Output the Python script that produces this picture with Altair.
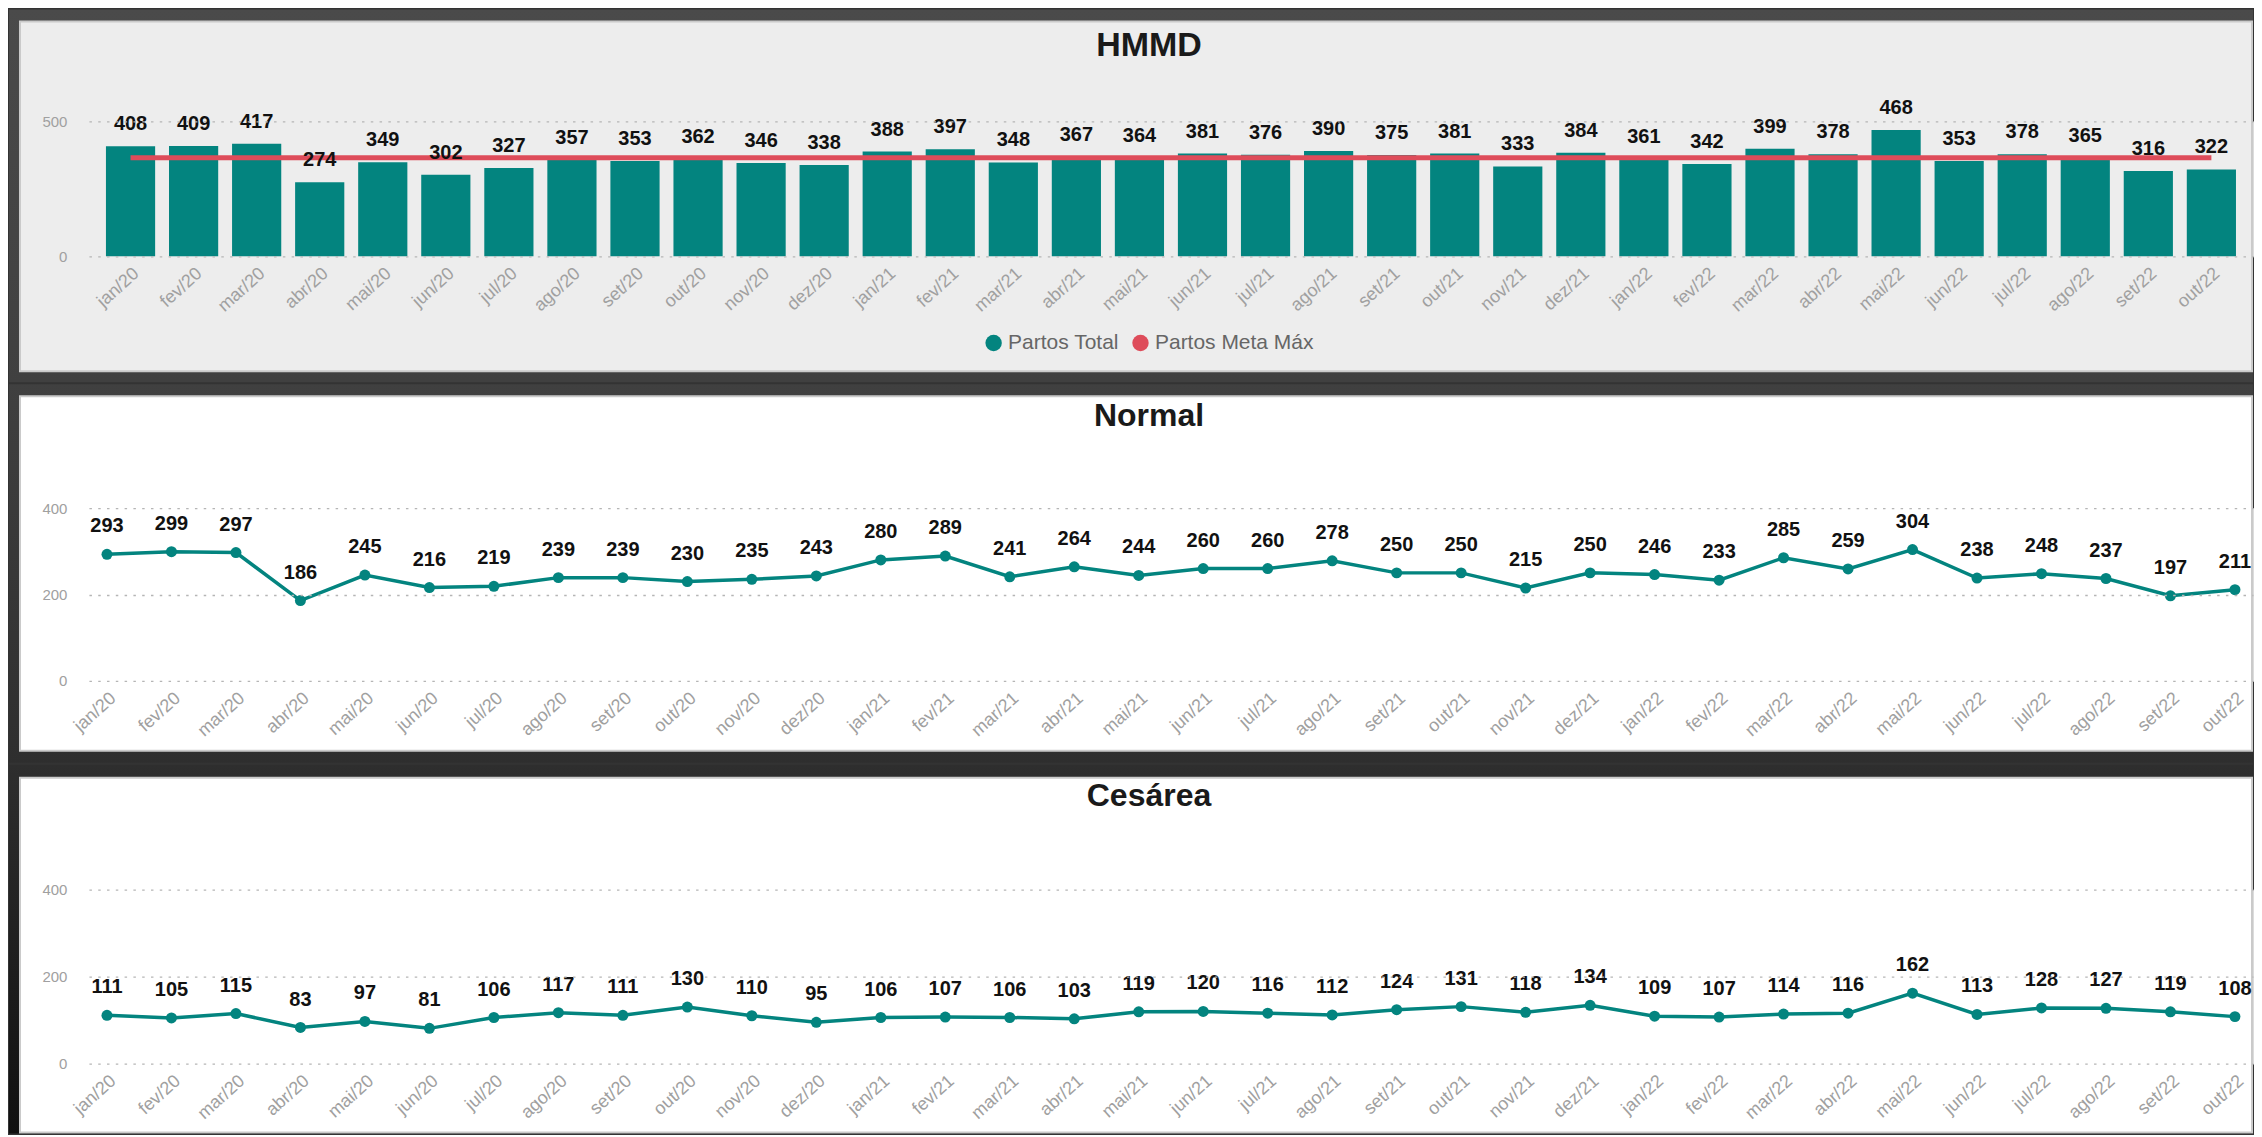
import altair as alt
import pandas as pd

months = ["jan/20", "fev/20", "mar/20", "abr/20", "mai/20", "jun/20", "jul/20", "ago/20", "set/20", "out/20", "nov/20", "dez/20",
          "jan/21", "fev/21", "mar/21", "abr/21", "mai/21", "jun/21", "jul/21", "ago/21", "set/21", "out/21", "nov/21", "dez/21",
          "jan/22", "fev/22", "mar/22", "abr/22", "mai/22", "jun/22", "jul/22", "ago/22", "set/22", "out/22"]
total = [408, 409, 417, 274, 349, 302, 327, 357, 353, 362, 346, 338,
         388, 397, 348, 367, 364, 381, 376, 390, 375, 381, 333, 384,
         361, 342, 399, 378, 468, 353, 378, 365, 316, 322]
meta = [365, 365, 365, 365, 365, 365, 365, 365, 365, 365, 365, 365,
        365, 365, 365, 365, 365, 365, 365, 365, 365, 365, 365, 365,
        365, 365, 365, 365, 365, 365, 365, 365, 365, 365]
normal = [293, 299, 297, 186, 245, 216, 219, 239, 239, 230, 235, 243,
          280, 289, 241, 264, 244, 260, 260, 278, 250, 250, 215, 250,
          246, 233, 285, 259, 304, 238, 248, 237, 197, 211]
cesarea = [111, 105, 115, 83, 97, 81, 106, 117, 111, 130, 110, 95,
           106, 107, 106, 103, 119, 120, 116, 112, 124, 131, 118, 134,
           109, 107, 114, 116, 162, 113, 128, 127, 119, 108]
series_names = ["Partos Total", "Partos Meta Máx"]
titles = ["HMMD", "Normal", "Cesárea"]

TEAL = "#03847F"
RED = "#DE4C5A"
FONT = "Liberation Sans"
AXIS_GRAY = "#a0a0a0"
PW = 2166

df = pd.DataFrame({"mes": months, "total": total, "meta": meta,
                   "normal": normal, "cesarea": cesarea})
df["serie"] = series_names[0]
one = pd.DataFrame({"k": [0]})


def backdrop(dy1, dy2, c_top, c_bot, py1, py2, fill):
    grad = alt.Gradient(gradient="linear",
                        stops=[alt.GradientStop(color=c_top, offset=0),
                               alt.GradientStop(color=c_bot, offset=1)],
                        x1=0, x2=0, y1=0, y2=1)
    dark = alt.Chart(one).mark_rect(color=grad).encode(
        x=alt.value(-80), x2=alt.value(PW), y=alt.value(dy1), y2=alt.value(dy2))
    panel = alt.Chart(one).mark_rect(fill=fill, stroke="#cacaca", strokeWidth=2).encode(
        x=alt.value(-69), x2=alt.value(PW - 1), y=alt.value(py1), y2=alt.value(py2))
    return dark, panel


def heading(text, ty, size=32):
    return alt.Chart(one).mark_text(text=text, fontSize=size, fontWeight="bold", font=FONT,
                                    color="#1a1a1a", align="center", baseline="middle").encode(
        x=alt.value(1061), y=alt.value(ty))


def xaxis():
    return alt.Axis(title=None, labelAngle=318, labelAlign="right", labelBaseline="top",
                    labelColor=AXIS_GRAY, labelFont=FONT, labelFontSize=18, labelPadding=8,
                    labelOverlap=False, labelFlush=False, domain=False, ticks=False,
                    grid=False, zindex=1)


def yaxis(vals):
    return alt.Axis(title=None, values=vals, labelColor=AXIS_GRAY, labelFont=FONT,
                    labelFontSize=15, labelPadding=22, domain=False, ticks=False,
                    gridColor="#b5b5b5", gridDash=[2.5, 6.3], gridWidth=1.3, zindex=1)


# ---------- HMMD ----------
xb = alt.X("mes:N", sort=months, axis=xaxis(),
           scale=alt.Scale(paddingInner=0.22, paddingOuter=0.27))
yb = alt.Y("total:Q", scale=alt.Scale(domain=[0, 500], nice=False), axis=yaxis([0, 500]))

d1, p1 = backdrop(-112, 261, "#4a4a4a", "#404040", -100, 250, "#ededed")
bars = alt.Chart(df).mark_bar(color=TEAL).encode(
    x=xb, y=yb,
    color=alt.Color("serie:N",
                    scale=alt.Scale(domain=series_names, range=[TEAL, RED]),
                    legend=alt.Legend(title=None, orient="none", legendX=895, legendY=211,
                                      direction="horizontal", symbolType="circle",
                                      symbolSize=270, symbolStrokeWidth=0,
                                      labelFont=FONT, labelFontSize=21, labelColor="#666666",
                                      labelOffset=4, columnPadding=11, padding=0)))
meta_line = alt.Chart(df).mark_line(color=RED, strokeWidth=5).encode(
    x=xb, y=alt.Y("meta:Q"))
bar_labels = alt.Chart(df).mark_text(dy=-22, fontSize=20, fontWeight="bold", font=FONT,
                                     color="#111111").encode(
    x=xb, y=alt.Y("total:Q"), text=alt.Text("total:Q"))

c1 = alt.layer(d1, p1, bars, meta_line, bar_labels, heading(titles[0], -75, 34)).properties(
    width=PW, height=135)


# ---------- line panels ----------
def line_panel(field, name, dy1, dy2, c_top, c_bot, py1, py2, h, ty):
    xl = alt.X("mes:N", sort=months, axis=xaxis(), scale=alt.Scale(padding=0.28))
    yl = alt.Y(f"{field}:Q", scale=alt.Scale(domain=[0, 400], nice=False),
               axis=yaxis([0, 200, 400]))
    d, p = backdrop(dy1, dy2, c_top, c_bot, py1, py2, "#ffffff")
    ln = alt.Chart(df).mark_line(color=TEAL, strokeWidth=3.5).encode(x=xl, y=yl)
    pts = alt.Chart(df).mark_point(filled=True, size=121, opacity=1, color=TEAL).encode(
        x=xl, y=alt.Y(f"{field}:Q"))
    lab = alt.Chart(df).mark_text(dy=-28, fontSize=20, fontWeight="bold", font=FONT,
                                  color="#111111").encode(
        x=xl, y=alt.Y(f"{field}:Q"), text=alt.Text(f"{field}:Q"))
    return alt.layer(d, p, ln, pts, lab, heading(name, ty)).properties(width=PW, height=h)


c2 = line_panel("normal", titles[1], -124, 255, "#404040", "#2e2e2e", -112, 243, 173, -92)
c3 = line_panel("cesarea", titles[2], -125, 244, "#2e2e2e", "#101010", -112, 243, 174, -94)

chart = alt.vconcat(c1, c2, c3, spacing=0).properties(
    padding=0, background="#333333"
).configure_view(strokeWidth=0).configure(font=FONT)

chart.save("out.html", embed_options={"renderer": "svg", "actions": False})
